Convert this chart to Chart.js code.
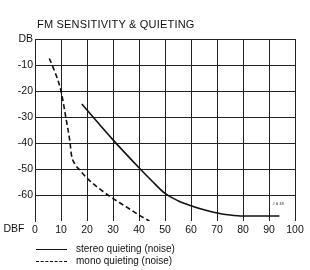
<!DOCTYPE html>
<html>
<head>
<meta charset="utf-8">
<script src="https://cdn.jsdelivr.net/npm/chart.js@4.4.1/dist/chart.umd.min.js"></script>
<style>
    body { margin: 0; background: #fff; }
    #wrap { position: relative; width: 310px; height: 270px; }
    #title {
        position: absolute; left: 37px; top: 18px;
        font: 11px "Liberation Sans Narrow", "Liberation Sans", Arial, sans-serif; color: #111; letter-spacing: 0.2px;
    }
    #legend {
        position: absolute; left: 36px; top: 243px;
        font: 10px "Liberation Sans", Arial, sans-serif; color: #111;
    }
    .row { height: 12px; line-height: 12px; display: flex; align-items: center; }
    .swatch { width: 31px; margin-right: 9px; border-top: 1.5px solid #111; }
    .swatch.dashed { border-top-style: dashed; }
</style>
</head>
<body>
<div id="wrap">
    <canvas id="quieting_chart" width="310" height="270"></canvas>
    <div id="title">FM SENSITIVITY &amp; QUIETING</div>
    <div id="legend">
        <div class="row"><span class="swatch"></span>stereo quieting (noise)</div>
        <div class="row"><span class="swatch dashed"></span>mono quieting (noise)</div>
    </div>
</div>
<script>
// values (x = DBF, y = DB)
const stereoDbf = [18, 30, 40, 45, 50, 55, 60, 65, 70, 75, 80, 94];
const stereoDb = [-25, -38.8, -49.5, -54.6, -59.4, -62.2, -64.1, -65.7, -66.9, -67.7, -68.1, -68.1];

const monoDbf = [5.5, 7, 10, 12, 13.5, 14, 15.3, 17.3, 20.5, 24, 28, 35, 40, 44];
const monoDb = [-7.5, -11, -20, -31, -40, -44.5, -48, -50.5, -54, -57, -60, -64.5, -67.7, -70];

const yTickLabels = { '0': 'DB', '-70': '' };
const cornerLabel = 'DBF';
const plateNote = '# 6 18';

function toPoints(xs, ys) {
    return xs.map((x, i) => ({ x: x, y: ys[i] }));
}

const tickFont = { family: '"Liberation Sans Narrow", "Liberation Sans", Arial, sans-serif', size: 10.5 };

// draws the DBF corner label and the small plate number
const extraText = {
    id: 'extraText',
    afterDraw(chart) {
        const ctx = chart.ctx;
        const x = chart.scales.x;
        const y = chart.scales.y;
        ctx.save();
        ctx.fillStyle = '#111';
        ctx.font = '10.5px "Liberation Sans Narrow", "Liberation Sans", Arial, sans-serif';
        ctx.textAlign = 'center';
        ctx.textBaseline = 'middle';
        ctx.fillText(cornerLabel, 14, y.bottom + 8);
        ctx.font = '4px "Liberation Sans", Arial, sans-serif';
        ctx.fillText(plateNote, x.getPixelForValue(93.5), y.getPixelForValue(-63.5));
        ctx.restore();
    }
};

new Chart(document.getElementById('quieting_chart'), {
    type: 'line',
    data: {
        datasets: [{
            label: 'stereo quieting (noise)',
            data: toPoints(stereoDbf, stereoDb),
            borderColor: '#111',
            borderWidth: 1.6,
            pointRadius: 0,
            cubicInterpolationMode: 'monotone'
        }, {
            label: 'mono quieting (noise)',
            data: toPoints(monoDbf, monoDb),
            borderColor: '#111',
            borderWidth: 1.6,
            borderDash: [5, 3],
            pointRadius: 0,
            cubicInterpolationMode: 'monotone'
        }]
    },
    options: {
        responsive: false,
        animation: false,
        layout: { padding: { left: 0, top: 39, right: 15, bottom: 29 } },
        plugins: {
            legend: { display: false },
            title: { display: false },
            tooltip: { enabled: false }
        },
        scales: {
            x: {
                type: 'linear',
                min: 0,
                max: 100,
                afterFit: function(scale) { scale.height = 20; },
                border: { display: false },
                grid: { color: '#222', lineWidth: 1, drawTicks: false },
                ticks: {
                    stepSize: 10,
                    padding: 3,
                    color: '#111',
                    font: tickFont,
                    maxRotation: 0
                }
            },
            y: {
                min: -70,
                max: 0,
                afterFit: function(scale) { scale.width = 35; },
                border: { color: '#222', width: 1 },
                grid: {
                    color: function(context) {
                        return context.tick && context.tick.value === -70 ? 'rgba(0,0,0,0)' : '#222';
                    },
                    lineWidth: 1,
                    drawTicks: false
                },
                ticks: {
                    stepSize: 10,
                    padding: 2,
                    color: '#111',
                    font: tickFont,
                    callback: function(value) {
                        const key = String(value);
                        return key in yTickLabels ? yTickLabels[key] : value;
                    }
                }
            }
        }
    },
    plugins: [extraText]
});
</script>
</body>
</html>
